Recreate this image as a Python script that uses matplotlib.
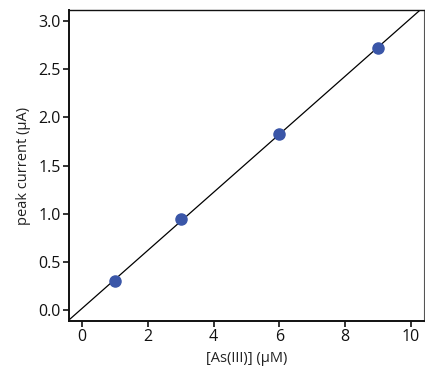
import numpy as np
import matplotlib
matplotlib.use("Agg")
import matplotlib.pyplot as plt

plt.rcParams['font.family'] = ['Open Sans', 'DejaVu Sans']

conc = [1, 3, 6, 9]
current = [0.30, 0.945, 1.83, 2.72]
xticks = [0, 2, 4, 6, 8, 10]
yticks = [0.0, 0.5, 1.0, 1.5, 2.0, 2.5, 3.0]

fig = plt.figure(figsize=(4.25, 3.72), dpi=100)
ax = fig.add_axes([0.1624, 0.137, 0.8352, 0.836])

slope, intercept = np.polyfit(conc, current, 1)
ax.axline((0, intercept), slope=slope, color='black', lw=0.9, zorder=2)
ax.plot(conc, current, 'o', color='#3a56a8', markersize=8, zorder=3)

ax.set_xlim(-0.4, 10.4)
ax.set_ylim(-0.114, 3.115)
ax.set_xticks(xticks)
ax.set_xticklabels([str(t) for t in xticks])
ax.set_yticks(yticks)
ax.set_yticklabels([f"{t:.1f}" for t in yticks])

for s in ['left', 'bottom']:
    ax.spines[s].set_linewidth(1.4)
    ax.spines[s].set_color('#111111')
ax.spines['top'].set_linewidth(1.0)
ax.spines['top'].set_color('#111111')
ax.spines['right'].set_linewidth(0.8)
ax.spines['right'].set_color('#555555')

ax.tick_params(direction='out', length=4, width=1.2, labelsize=11.5, colors='#111111', pad=2)
ax.set_xlabel('[As(III)] (μM)', fontsize=10.5, color='#222222', labelpad=4)
ax.set_ylabel('peak current (μA)', fontsize=10.5, color='#222222', labelpad=5)

fig.savefig('out.png', dpi=100)
